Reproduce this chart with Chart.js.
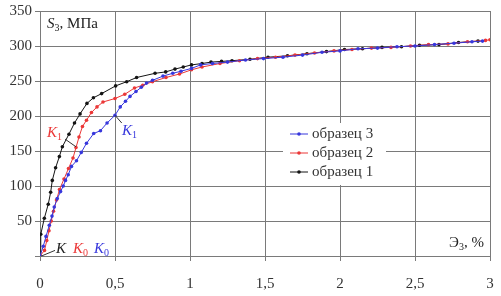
<!DOCTYPE html>
<html>
<head>
<meta charset="utf-8">
<script src="https://cdn.jsdelivr.net/npm/chart.js@4.4.0/dist/chart.umd.min.js"></script>
<style>
    html, body { margin: 0; padding: 0; background: #fff; }
    canvas { display: block; }
</style>
</head>
<body>
<canvas id="chart" width="501" height="296"></canvas>
<script>
// образец 1 (black)
const s1X = [0, 0.005, 0.029, 0.055, 0.071, 0.082, 0.104, 0.129, 0.149, 0.193, 0.23, 0.267, 0.313, 0.356, 0.411, 0.504, 0.578, 0.644, 0.767, 0.838, 0.9, 0.955, 1.01, 1.08, 1.14, 1.21, 1.28,
    1.40, 1.52, 1.65, 1.78, 1.91, 2.03, 2.15, 2.28, 2.41, 2.53, 2.66, 2.79, 2.92];
const s1Y = [0, 31, 54, 74, 91, 108, 126, 142, 156, 174, 190, 203, 218, 226, 232, 243, 249, 255, 261, 263, 267, 270, 273, 275, 277, 278, 279,
    281, 284, 286, 289, 292, 295, 296, 298, 299, 301, 302, 305, 307];

// образец 2 (red)
const s2X = [0, 0.03, 0.045, 0.06, 0.075, 0.09, 0.11, 0.13, 0.16, 0.19, 0.22, 0.24, 0.26, 0.283, 0.31, 0.343, 0.38, 0.42, 0.5, 0.565, 0.63, 0.685, 0.75, 0.84, 0.93, 1.01, 1.08, 1.2, 1.33,
    1.45, 1.57, 1.70, 1.83, 1.96, 2.08, 2.21, 2.34, 2.47, 2.59, 2.72, 2.85, 2.97, 3.0];
const s2Y = [0, 8, 22, 36, 50, 64, 80, 95, 110, 125, 140, 155, 170, 185, 194, 205, 213, 220, 225, 231, 240, 244, 249, 255, 260, 266, 270, 275, 279,
    282, 284, 287, 290, 293, 295, 297, 298, 300, 302, 303, 306, 308, 309];

// образец 3 (blue)
const s3X = [0, 0.022, 0.04, 0.062, 0.08, 0.095, 0.115, 0.137, 0.155, 0.17, 0.188, 0.21, 0.243, 0.275, 0.31, 0.358, 0.403, 0.447, 0.5, 0.535, 0.57, 0.6, 0.64, 0.675, 0.71, 0.75, 0.82, 0.885, 0.94, 1.01, 1.07, 1.15, 1.25, 1.37,
    1.49, 1.62, 1.75, 1.88, 2.0, 2.12, 2.25, 2.38, 2.5, 2.63, 2.76, 2.88, 2.95];
const s3Y = [0, 14, 28, 44, 57, 70, 82, 92, 100, 108, 116, 128, 136, 148, 161, 175, 179, 190, 201, 213, 221, 228, 235, 241, 247, 251, 257, 261, 264, 268, 273, 275, 277, 280,
    282, 284, 287, 291, 293, 296, 297, 299, 300, 302, 304, 306, 307];

const seriesNames = ['образец 3', 'образец 2', 'образец 1'];
const xTickLabels = ['0', '0,5', '1', '1,5', '2', '2,5', '3'];
const yTickLabels = ['', '50', '100', '150', '200', '250', '300', '350'];

const BLUE = 'rgb(55,55,220)';
const RED = 'rgb(235,55,55)';
const BLACK = 'rgb(20,20,20)';
const GRID = '#7a7a7a';
const SERIF = 'Liberation Serif';

function toPoints(xs, ys) {
    return xs.map((x, i) => ({ x: x, y: ys[i] }));
}

function series(label, xs, ys, color) {
    return {
        label: label,
        data: toPoints(xs, ys),
        showLine: true,
        borderColor: color,
        backgroundColor: color,
        borderWidth: 1,
        pointRadius: 1.8,
        pointBorderWidth: 0,
        tension: 0
    };
}

// text with italic letter and subscript, e.g. K₀
function drawSub(ctx, main, sub, rest, x, y, color, size) {
    ctx.save();
    ctx.fillStyle = color;
    ctx.textBaseline = 'alphabetic';
    ctx.textAlign = 'left';
    ctx.font = 'italic ' + size + 'px ' + SERIF;
    ctx.fillText(main, x, y);
    let w = ctx.measureText(main).width;
    ctx.font = Math.round(size * 0.68) + 'px ' + SERIF;
    ctx.fillText(sub, x + w, y + 3);
    w += ctx.measureText(sub).width;
    if (rest) {
        ctx.font = size + 'px ' + SERIF;
        ctx.fillText(rest, x + w, y);
    }
    ctx.restore();
}

const annotations = {
    id: 'annotations',
    afterDatasetsDraw(chart) {
        const ctx = chart.ctx;
        const xs = chart.scales.x, ys = chart.scales.y;
        const px = v => xs.getPixelForValue(v);
        const py = v => ys.getPixelForValue(v);

        // axis titles inside the plot
        drawSub(ctx, 'S', '3', ', МПа', px(0.047), py(326), '#222', 15);
        ctx.save();
        ctx.font = '15px ' + SERIF;
        const w1 = ctx.measureText('Э').width;
        ctx.font = '10px ' + SERIF;
        const w2 = ctx.measureText('3').width;
        ctx.font = '15px ' + SERIF;
        const w3 = ctx.measureText(', %').width;
        const ex = px(2.96) - (w1 + w2 + w3);
        ctx.fillStyle = '#222';
        ctx.font = '15px ' + SERIF;
        ctx.fillText('Э', ex, py(13));
        ctx.font = '10px ' + SERIF;
        ctx.fillText('3', ex + w1, py(13) + 3);
        ctx.font = '15px ' + SERIF;
        ctx.fillText(', %', ex + w1 + w2, py(13));
        ctx.restore();

        // leader lines
        ctx.save();
        ctx.lineWidth = 1;
        ctx.strokeStyle = '#333';
        ctx.beginPath();
        ctx.moveTo(px(0.01), py(0));
        ctx.lineTo(px(0.1), py(8));
        ctx.moveTo(px(0.167), py(167));
        ctx.lineTo(px(0.24), py(156));
        ctx.moveTo(px(0.5), py(201));
        ctx.lineTo(px(0.545), py(190));
        ctx.stroke();
        ctx.restore();

        // K labels
        drawSub(ctx, 'K', '', '', px(0.107), py(4), '#222', 15);
        drawSub(ctx, 'K', '0', '', px(0.22), py(4), RED, 15);
        drawSub(ctx, 'K', '0', '', px(0.36), py(4), BLUE, 15);
        drawSub(ctx, 'K', '1', '', px(0.047), py(170), RED, 15);
        drawSub(ctx, 'K', '1', '', px(0.547), py(173), BLUE, 15);
    }
};

const boxLegend = {
    id: 'boxLegend',
    afterDraw(chart) {
        const ctx = chart.ctx;
        const left = 283, top = 123, width = 103, height = 62;
        ctx.save();
        ctx.fillStyle = '#fff';
        ctx.fillRect(left, top, width, height);
        ctx.font = '15px ' + SERIF;
        ctx.textBaseline = 'middle';
        chart.data.datasets.forEach((ds, i) => {
            const y = top + 11 + i * 19;
            ctx.strokeStyle = ds.borderColor;
            ctx.lineWidth = 1;
            ctx.beginPath();
            ctx.moveTo(left + 7, y);
            ctx.lineTo(left + 25, y);
            ctx.stroke();
            ctx.fillStyle = ds.borderColor;
            ctx.beginPath();
            ctx.arc(left + 16, y, 1.8, 0, Math.PI * 2);
            ctx.fill();
            ctx.fillStyle = '#333';
            ctx.fillText(ds.label, left + 29, y);
        });
        ctx.restore();
    }
};

new Chart(document.getElementById('chart'), {
    type: 'scatter',
    data: {
        datasets: [
            series(seriesNames[0], s3X, s3Y, BLUE),
            series(seriesNames[1], s2X, s2Y, RED),
            series(seriesNames[2], s1X, s1Y, BLACK)
        ]
    },
    options: {
        responsive: false,
        animation: false,
        devicePixelRatio: 1,
        layout: { padding: { top: 11, right: 11, left: 0, bottom: 0 } },
        plugins: {
            legend: { display: false },
            tooltip: { enabled: false }
        },
        scales: {
            x: {
                type: 'linear',
                min: 0,
                max: 3,
                afterFit(scale) {
                    scale.height = 40;
                    scale.paddingLeft = 0;
                    scale.paddingRight = 0;
                },
                ticks: {
                    stepSize: 0.5,
                    maxRotation: 0,
                    padding: 14,
                    color: '#333',
                    font: { family: SERIF, size: 15 },
                    callback: (v, i) => xTickLabels[i]
                },
                grid: { color: GRID, lineWidth: 1, tickLength: 5 },
                border: { color: GRID }
            },
            y: {
                min: 0,
                max: 350,
                afterFit(scale) {
                    scale.width = 40;
                    scale.paddingTop = 0;
                    scale.paddingBottom = 0;
                },
                ticks: {
                    stepSize: 50,
                    padding: 3,
                    color: '#333',
                    font: { family: SERIF, size: 15 },
                    callback: (v, i) => yTickLabels[i]
                },
                grid: { color: GRID, lineWidth: 1, tickLength: 5 },
                border: { color: GRID }
            }
        }
    },
    plugins: [annotations, boxLegend]
});
</script>
</body>
</html>
